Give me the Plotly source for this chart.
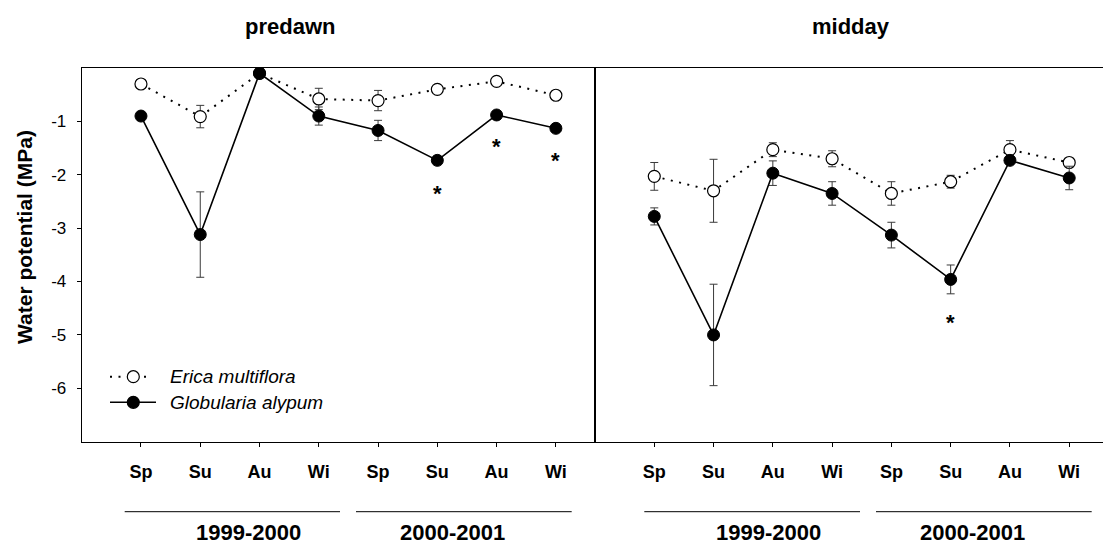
import plotly.graph_objects as go

# ---- data -------------------------------------------------------------
seasons = ["Sp", "Su", "Au", "Wi", "Sp", "Su", "Au", "Wi"]
years = ["1999-2000", "2000-2001"]

# predawn water potential (MPa), mean and s.e.
erica_predawn = [-0.30, -0.91, -0.10, -0.58, -0.61, -0.40, -0.25, -0.51]
erica_predawn_se = [0.04, 0.21, 0.04, 0.20, 0.19, 0.04, 0.04, 0.04]
glob_predawn = [-0.90, -3.12, -0.10, -0.90, -1.17, -1.73, -0.88, -1.13]
glob_predawn_se = [0.05, 0.80, 0.04, 0.17, 0.19, 0.08, 0.05, 0.05]

# midday water potential (MPa), mean and s.e.
erica_midday = [-2.03, -2.30, -1.53, -1.70, -2.35, -2.13, -1.53, -1.77]
erica_midday_se = [0.26, 0.59, 0.13, 0.15, 0.22, 0.12, 0.17, 0.05]
glob_midday = [-2.78, -5.00, -1.97, -2.35, -3.13, -3.96, -1.73, -2.06]
glob_midday_se = [0.16, 0.95, 0.23, 0.22, 0.24, 0.27, 0.05, 0.22]

# significant species differences (*)
sig_predawn = [False, False, False, False, False, True, True, True]
sig_midday = [False, False, False, False, False, True, False, False]

y_ticks = [-1, -2, -3, -4, -5, -6]

# ---- layout helpers (pixel -> paper) ----------------------------------
W, H = 1103, 546
FONT = "Liberation Sans, Arial, sans-serif"


def fx(p):
    return p / W


def fy(p):
    return 1 - p / H


xpos = list(range(1, len(seasons) + 1))

fig = go.Figure()

panels = [
    ("x", "y", erica_predawn, erica_predawn_se, glob_predawn, glob_predawn_se, sig_predawn),
    ("x2", "y2", erica_midday, erica_midday_se, glob_midday, glob_midday_se, sig_midday),
]

ERR_COLOR = "#3a3a3a"
for xa, ya, e, e_se, g, g_se, sig in panels:
    fig.add_trace(go.Scatter(
        x=xpos, y=e, xaxis=xa, yaxis=ya, mode="lines+markers",
        name="Erica multiflora", showlegend=False,
        line=dict(color="black", width=2, dash="2px,6.5px"),
        marker=dict(symbol="circle", size=12, color="white",
                    line=dict(color="black", width=1.2)),
        error_y=dict(type="data", array=e_se, color=ERR_COLOR,
                     thickness=1, width=4),
    ))
    fig.add_trace(go.Scatter(
        x=xpos, y=g, xaxis=xa, yaxis=ya, mode="lines+markers",
        name="Globularia alypum", showlegend=False,
        line=dict(color="black", width=1.6),
        marker=dict(symbol="circle", size=12, color="black",
                    line=dict(color="black", width=1)),
        error_y=dict(type="data", array=g_se, color=ERR_COLOR,
                     thickness=1, width=4),
    ))
    # asterisks below the Globularia marks
    for xi, v, s, flag in zip(xpos, g, g_se, sig):
        if flag:
            fig.add_annotation(
                x=xi, y=v - s - 0.45, xref=xa, yref=ya, text="*",
                showarrow=False, yshift=-5,
                font=dict(family=FONT, size=22, color="black", weight="bold"),
            )

axis_common = dict(showgrid=False, zeroline=False, linecolor="black",
                   linewidth=1, showline=True, automargin=False,
                   fixedrange=True)

x_common = dict(axis_common, tickmode="array", tickvals=xpos, ticktext=seasons,
                ticks="outside", ticklen=4, tickwidth=1, tickcolor="black",
                tickfont=dict(family=FONT, size=18, color="black", weight="bold"),
                ticklabelstandoff=10, mirror=True)

y_dom = [fy(441.7), fy(68)]

fig.update_layout(
    width=W, height=H, autosize=False,
    margin=dict(l=0, r=0, t=0, b=0),
    paper_bgcolor="white", plot_bgcolor="white",
    showlegend=False,
    xaxis=dict(x_common, domain=[fx(81.7), fx(595)], range=[0, 8.66], anchor="y"),
    xaxis2=dict(x_common, domain=[fx(595), 1.0], range=[0, 8.57], anchor="y2"),
    yaxis=dict(axis_common, domain=y_dom, range=[-7, 0], anchor="x",
               tickmode="array", tickvals=y_ticks,
               ticktext=[str(v) for v in y_ticks],
               ticks="outside", ticklen=4, tickwidth=1, tickcolor="black",
               tickfont=dict(family=FONT, size=17, color="black"),
               ticklabelstandoff=7, mirror=True),
    yaxis2=dict(axis_common, domain=y_dom, range=[-7, 0], anchor="x2",
                showticklabels=False, ticks="", mirror=False),
)

# panel titles
for txt, cx in [("predawn", 290), ("midday", 851)]:
    fig.add_annotation(x=fx(cx), y=fy(26), xref="paper", yref="paper",
                       text=txt, showarrow=False, xanchor="center", yanchor="middle",
                       font=dict(family=FONT, size=22, color="black", weight="bold"))

# y-axis title
fig.add_annotation(x=fx(24), y=fy(237), xref="paper", yref="paper",
                   text="Water potential (MPa)", textangle=-90, showarrow=False,
                   xanchor="center", yanchor="middle",
                   font=dict(family=FONT, size=21, color="black", weight="bold"))

# year brackets under the season labels
year_lines = [(124.7, 340.0), (356.0, 571.7), (644.3, 860.0), (876.0, 1091.7)]
year_centers = [248.5, 452.5, 768.5, 972.0]
for i, ((x0, x1), cx) in enumerate(zip(year_lines, year_centers)):
    fig.add_shape(type="line", xref="paper", yref="paper",
                  x0=fx(x0), x1=fx(x1), y0=fy(511.7), y1=fy(511.7),
                  line=dict(color="black", width=1))
    fig.add_annotation(x=fx(cx), y=fy(532), xref="paper", yref="paper",
                       text=years[i % 2], showarrow=False,
                       xanchor="center", yanchor="middle",
                       font=dict(family=FONT, size=22, color="black", weight="bold"))

# legend key
legend_rows = [
    ("Erica multiflora", 376.7, 148.0, dict(color="black", width=2, dash="2px,6.5px"), "white"),
    ("Globularia alypum", 402.3, 156.0, dict(color="black", width=1.6), "black"),
]
r = 6
for label, ry, xend, lstyle, fill in legend_rows:
    fig.add_shape(type="line", xref="paper", yref="paper",
                  x0=fx(110), x1=fx(xend), y0=fy(ry), y1=fy(ry), line=lstyle)
    fig.add_shape(type="circle", xref="paper", yref="paper",
                  x0=fx(133.3 - r), x1=fx(133.3 + r), y0=fy(ry + r), y1=fy(ry - r),
                  fillcolor=fill, line=dict(color="black", width=1.2))
    fig.add_annotation(x=fx(168), y=fy(ry), xref="paper", yref="paper",
                       text=label, showarrow=False, xanchor="left", yanchor="middle",
                       font=dict(family=FONT, size=19, color="black", style="italic"))

fig.write_html("out.html")
